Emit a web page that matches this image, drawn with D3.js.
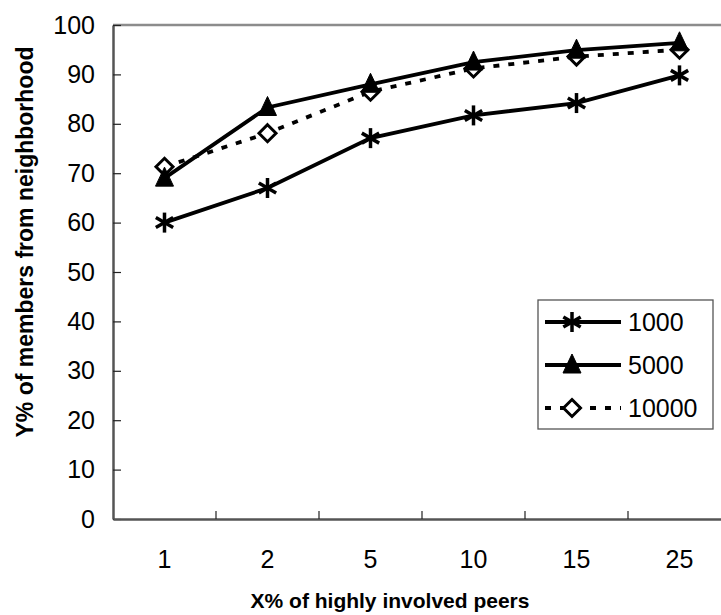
<!DOCTYPE html>
<html>
<head>
<meta charset="utf-8">
<script src="https://cdn.jsdelivr.net/npm/d3@7"></script>
<style>
  html, body { margin: 0; padding: 0; background: #fff; }
  svg { display: block; font-family: "Liberation Sans", Arial, sans-serif; }
</style>
</head>
<body>
<svg id="chart" width="721" height="615"></svg>
<script>
// Categories along the x axis (X% of highly involved peers)
const categories = ["1", "2", "5", "10", "15", "25"];
// Y% of members from neighborhood, one array per network size
const seriesNames = ["1000", "5000", "10000"];
const values1000  = [60.0, 67.0, 77.1, 81.7, 84.2, 89.8];
const values5000  = [69.0, 83.3, 88.0, 92.5, 94.9, 96.4];
const values10000 = [71.3, 78.1, 86.5, 91.2, 93.6, 95.0];
const yTickValues = [0, 10, 20, 30, 40, 50, 60, 70, 80, 90, 100];

const series = [
  { name: seriesNames[0], values: values1000,  marker: "star",     dashed: false },
  { name: seriesNames[1], values: values5000,  marker: "triangle", dashed: false },
  { name: seriesNames[2], values: values10000, marker: "diamond",  dashed: true }
];

const svg = d3.select("#chart");

const plot = { left: 113, top: 25, right: 731, bottom: 519 };

const x = d3.scaleBand().domain(categories).range([plot.left, plot.right]).padding(0);
const y = d3.scaleLinear().domain([0, 100]).range([plot.bottom, plot.top]);

// Plot frame: light grey top edge
svg.append("line")
  .attr("x1", plot.left).attr("x2", plot.right)
  .attr("y1", plot.top).attr("y2", plot.top)
  .attr("stroke", "#8c8c8c").attr("stroke-width", 2.5);

// Y axis
const yAxis = d3.axisLeft(y).tickValues(yTickValues)
  .tickSizeInner(-8).tickSizeOuter(0).tickPadding(18);
const gy = svg.append("g").attr("transform", `translate(${plot.left},0)`).call(yAxis);
gy.select(".domain").attr("stroke", "#555").attr("stroke-width", 2.5);
gy.selectAll(".tick line").attr("stroke", "#222").attr("stroke-width", 1.2);
gy.selectAll(".tick text").attr("font-size", 25).attr("fill", "#000")
  .attr("font-family", "Liberation Sans, Arial, sans-serif");

// X axis: labels centred in each category band
const xAxis = d3.axisBottom(x).tickSize(0).tickPadding(31);
const gx = svg.append("g").attr("transform", `translate(0,${plot.bottom})`).call(xAxis);
gx.select(".domain").attr("stroke", "#555").attr("stroke-width", 2.5);
gx.selectAll(".tick text").attr("font-size", 25).attr("fill", "#000")
  .attr("font-family", "Liberation Sans, Arial, sans-serif");

// X tick marks sit on the boundaries between categories
gx.selectAll(".bound")
  .data(categories.slice(1))
  .join("line")
  .attr("class", "bound")
  .attr("x1", d => x(d)).attr("x2", d => x(d))
  .attr("y1", 0).attr("y2", -8)
  .attr("stroke", "#222").attr("stroke-width", 1.2);

// Axis titles
svg.append("text")
  .attr("x", 390).attr("y", 608)
  .attr("text-anchor", "middle")
  .attr("font-weight", "bold").attr("font-size", 21)
  .text("X% of highly involved peers");

svg.append("text")
  .attr("transform", "translate(33,242) rotate(-90)")
  .attr("text-anchor", "middle")
  .attr("font-weight", "bold").attr("font-size", 23)
  .text("Y% of members from neighborhood");

// Marker drawing
function drawMarker(g, type) {
  if (type === "star") {
    const r = 10;
    [90, 30, -30].forEach(a => {
      const rad = a * Math.PI / 180;
      const dx = r * Math.cos(rad), dy = r * Math.sin(rad);
      g.append("line")
        .attr("x1", -dx).attr("y1", -dy).attr("x2", dx).attr("y2", dy)
        .attr("stroke", "#000").attr("stroke-width", 3.5);
    });
  } else if (type === "triangle") {
    g.append("path")
      .attr("d", "M0,-11 L9,8 L-9,8 Z")
      .attr("fill", "#000").attr("stroke", "#000").attr("stroke-width", 1);
  } else if (type === "diamond") {
    g.append("path")
      .attr("d", "M0,-8.5 L8.5,0 L0,8.5 L-8.5,0 Z")
      .attr("fill", "#fff").attr("stroke", "#000").attr("stroke-width", 3);
  }
}

const line = d3.line()
  .x((d, i) => x(categories[i]) + x.bandwidth() / 2)
  .y(d => y(d));

// Draw last series first so the solid series sit on top
series.slice().reverse().forEach(s => {
  const g = svg.append("g");
  g.append("path")
    .attr("d", line(s.values))
    .attr("fill", "none")
    .attr("stroke", "#000")
    .attr("stroke-width", 3.8)
    .attr("stroke-dasharray", s.dashed ? "6,9" : null);
  s.values.forEach((v, i) => {
    const m = g.append("g")
      .attr("transform", `translate(${x(categories[i]) + x.bandwidth() / 2},${y(v)})`);
    drawMarker(m, s.marker);
  });
});

// Legend
const legend = svg.append("g");
legend.append("rect")
  .attr("x", 538).attr("y", 300).attr("width", 175).attr("height", 129)
  .attr("fill", "#fff").attr("stroke", "#555").attr("stroke-width", 1.3);

series.forEach((s, i) => {
  const ly = 322 + i * 43;
  const g = legend.append("g");
  g.append("line")
    .attr("x1", 545).attr("x2", 621).attr("y1", ly).attr("y2", ly)
    .attr("stroke", "#000").attr("stroke-width", 3.8)
    .attr("stroke-dasharray", s.dashed ? "6,9" : null);
  const m = g.append("g").attr("transform", `translate(572,${ly})`);
  drawMarker(m, s.marker);
  g.append("text")
    .attr("x", 628).attr("y", ly).attr("dy", "0.36em")
    .attr("font-size", 25)
    .text(s.name);
});
</script>
</body>
</html>
